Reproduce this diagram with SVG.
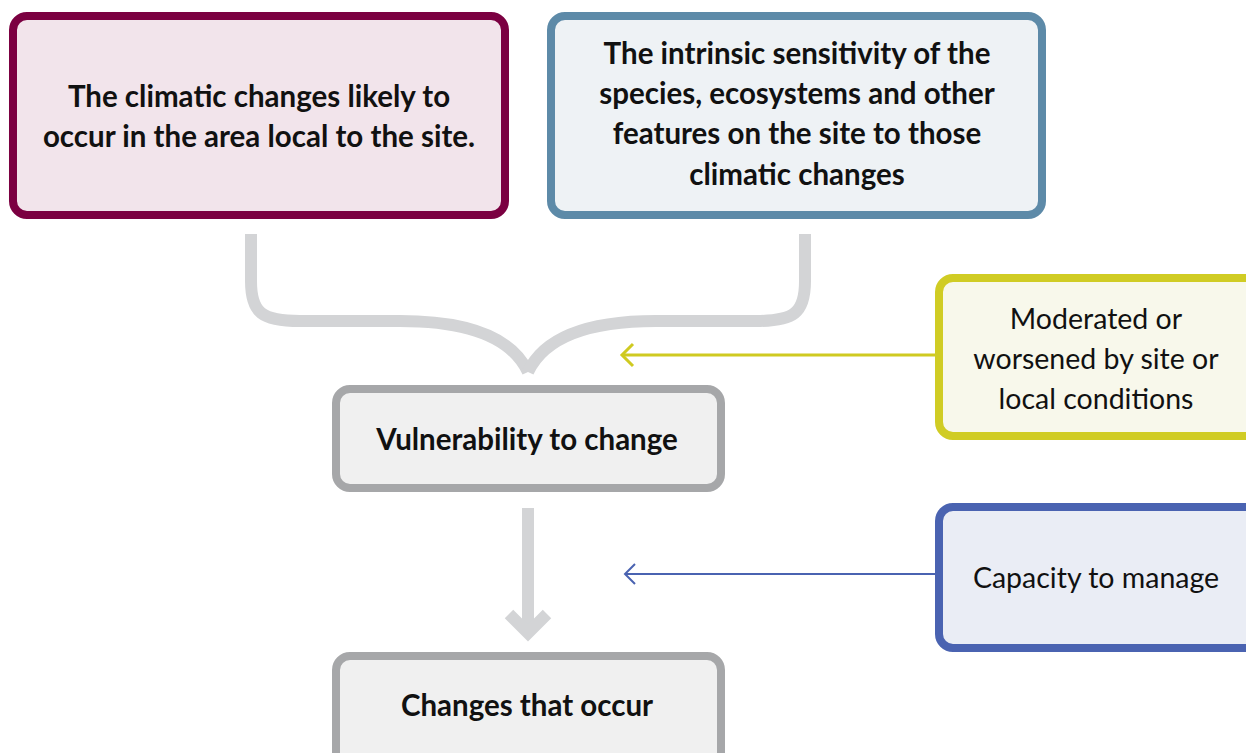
<svg xmlns="http://www.w3.org/2000/svg" width="1246" height="753" viewBox="0 0 1246 753">
<style>
.box{stroke-width:8}
.b{font-family:Lato,"Liberation Sans",sans-serif;font-weight:bold;font-size:29.5px;fill:#111;text-anchor:middle}
.r{font-family:Lato,"Liberation Sans",sans-serif;font-size:28.5px;fill:#111;text-anchor:middle}
.gray{fill:none;stroke:#d3d4d6;stroke-width:12}
</style>
<rect width="1246" height="753" fill="#fff"/>
<g id="connectors">
  <path class="gray" d="M251,234 V281 C251,313 262,321 300,321 H400 C468,321 512,338 528,372"/>
  <path class="gray" d="M805,234 V281 C805,313 794,321 756,321 H656 C588,321 544,338 528,372"/>
  <line class="gray" x1="528" y1="508" x2="528" y2="630" stroke-width="11"/>
  <polyline class="gray" points="509,614 528,633 547,614" stroke-width="11"/>
  <line x1="937" y1="355" x2="623" y2="355" stroke="#cfca21" stroke-width="3"/>
  <polyline points="633,344 622,355 633,366" fill="none" stroke="#cfca21" stroke-width="3"/>
  <line x1="937" y1="574" x2="625" y2="574" stroke="#4a63b1" stroke-width="2"/>
  <polyline points="635,564 625,574 635,584" fill="none" stroke="#4a63b1" stroke-width="2"/>
</g>
<g id="climatic">
  <rect class="box" x="13" y="16" width="492" height="199" rx="14" fill="#f2e4eb" stroke="#7b0041"/>
  <text class="b" x="259" y="107">The climatic changes likely to</text>
  <text class="b" x="259" y="147">occur in the area local to the site.</text>
</g>
<g id="sensitivity">
  <rect class="box" x="551" y="16" width="491" height="199" rx="14" fill="#eef2f5" stroke="#5d8aa8"/>
  <text class="b" x="797" y="64">The intrinsic sensitivity of the</text>
  <text class="b" x="797" y="104">species, ecosystems and other</text>
  <text class="b" x="797" y="144">features on the site to those</text>
  <text class="b" x="797" y="185">climatic changes</text>
</g>
<g id="vulnerability">
  <rect class="box" x="336" y="389" width="385" height="99" rx="14" fill="#f0f0f0" stroke="#a6a7a9"/>
  <text class="b" x="527" y="450">Vulnerability to change</text>
</g>
<g id="changes">
  <rect class="box" x="336" y="656" width="385" height="110" rx="14" fill="#f0f0f0" stroke="#a6a7a9"/>
  <text class="b" x="527" y="716">Changes that occur</text>
</g>
<g id="moderated">
  <rect class="box" x="939" y="278" width="320" height="158" rx="14" fill="#f8f8eb" stroke="#d0cc24"/>
  <text class="r" x="1096" y="329">Moderated or</text>
  <text class="r" x="1096" y="369">worsened by site or</text>
  <text class="r" x="1096" y="409">local conditions</text>
</g>
<g id="capacity">
  <rect class="box" x="939" y="507" width="320" height="141" rx="14" fill="#eaedf5" stroke="#4a63b1"/>
  <text class="r" x="1096" y="588">Capacity to manage</text>
</g>
</svg>
